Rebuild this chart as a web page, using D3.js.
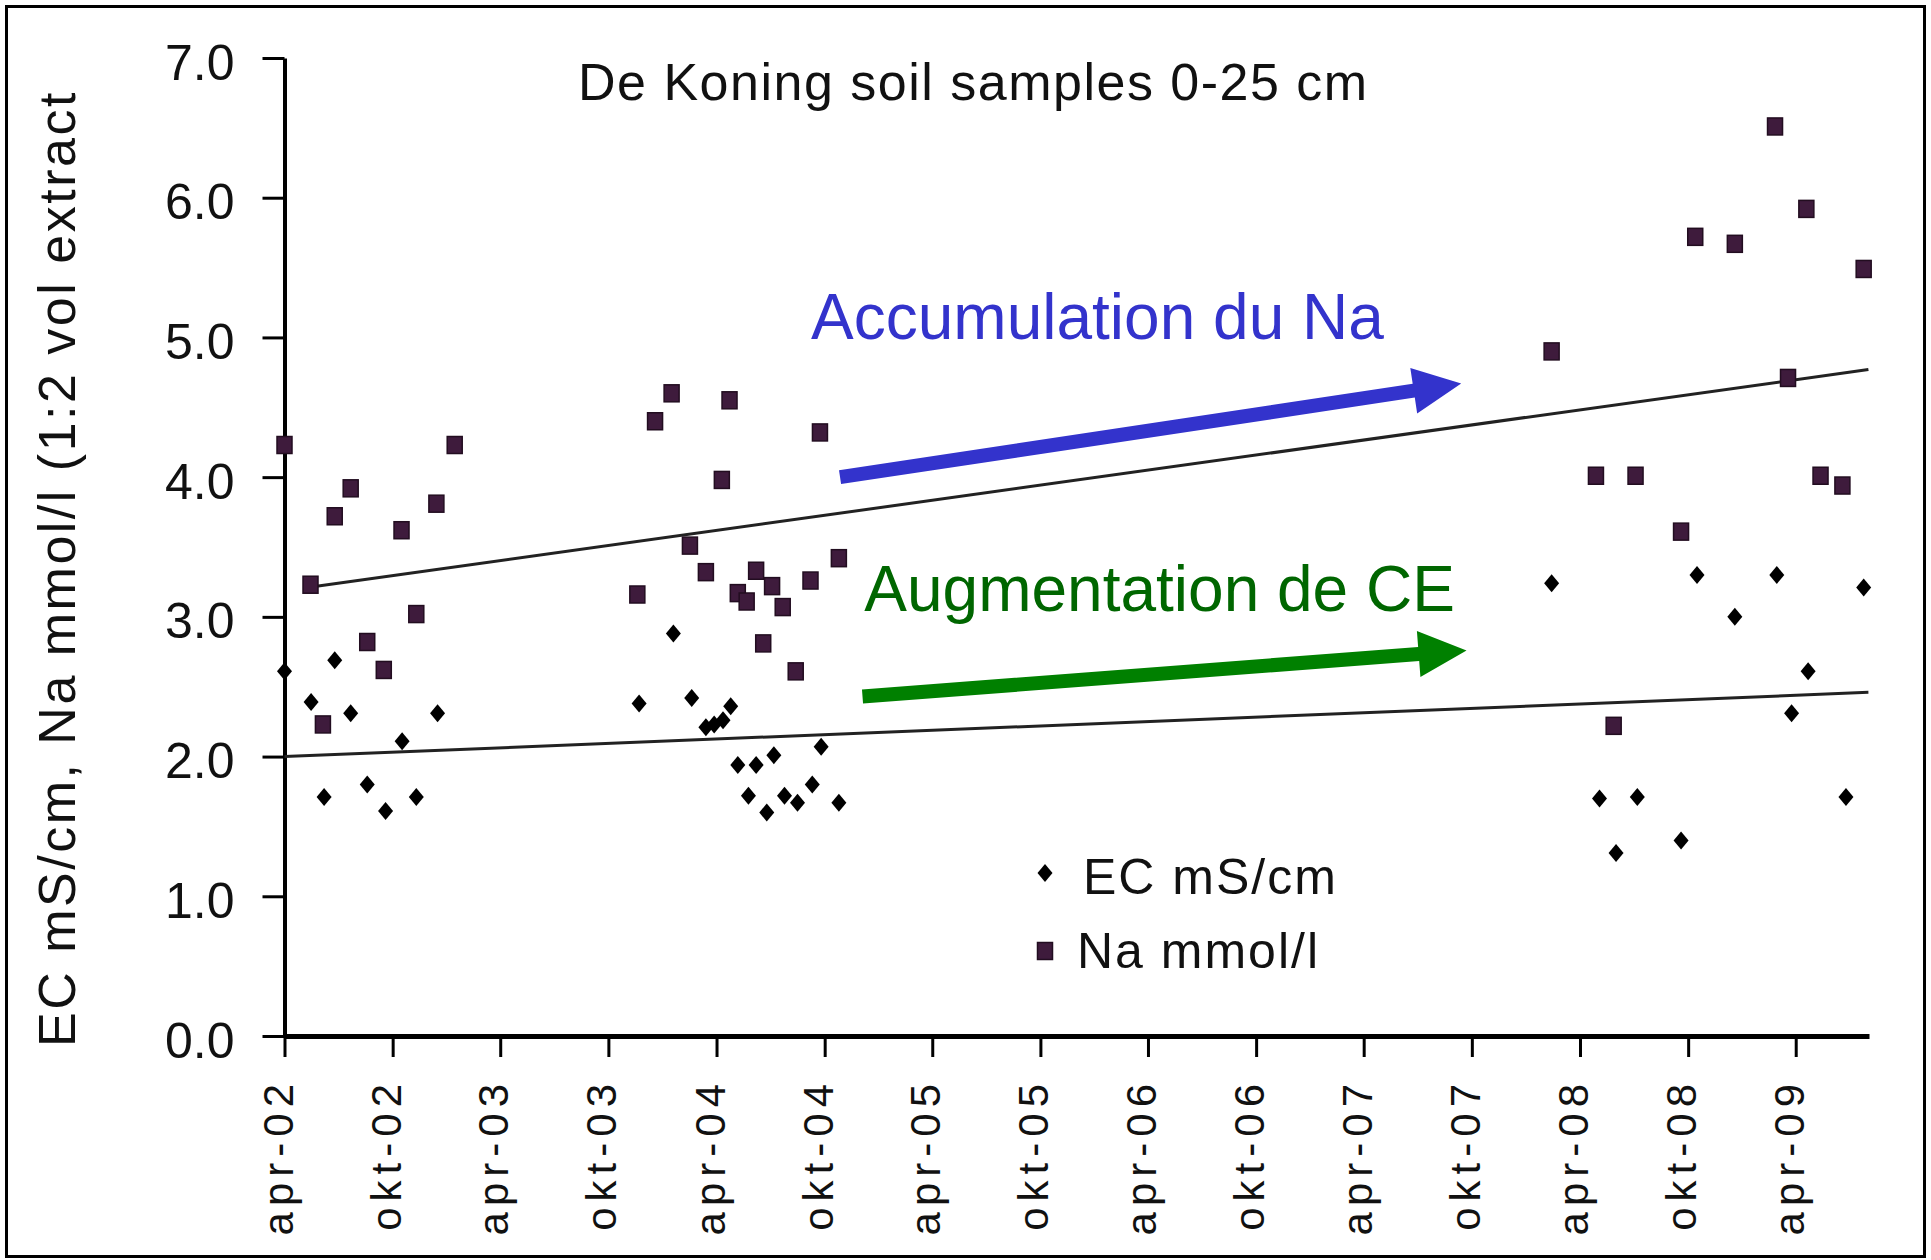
<!DOCTYPE html>
<html>
<head>
<meta charset="utf-8">
<script src="https://d3js.org/d3.v7.min.js"></script>
<style>
  body { margin: 0; background: #fff; }
  svg text { font-family: "Liberation Sans", Arial, sans-serif; }
</style>
</head>
<body>
<svg id="chart" width="1931" height="1260"></svg>
<script>
// x axis labels (every 6 months)
var tickLabels = ["apr-02","okt-02","apr-03","okt-03","apr-04","okt-04","apr-05","okt-05",
                  "apr-06","okt-06","apr-07","okt-07","apr-08","okt-08","apr-09"];
var yTicks = [0, 1, 2, 3, 4, 5, 6, 7];

// EC mS/cm
var ecDates = ["2002-04-01","2002-05-16","2002-06-07","2002-06-25","2002-07-22","2002-08-19",
               "2002-09-19","2002-10-17","2002-11-10","2002-12-16",
               "2003-11-22","2004-01-19","2004-02-19","2004-03-14","2004-03-28","2004-04-12",
               "2004-04-25","2004-05-07","2004-05-25","2004-06-07","2004-06-25","2004-07-07",
               "2004-07-25","2004-08-16","2004-09-10","2004-09-25","2004-10-25",
               "2008-02-13","2008-05-04","2008-06-01","2008-07-07","2008-09-19","2008-10-16",
               "2008-12-19","2009-02-28","2009-03-25","2009-04-22","2009-06-25","2009-07-25"];
var ecValues = [2.61, 2.39, 1.71, 2.69, 2.31, 1.80,
                1.61, 2.11, 1.71, 2.31,
                2.38, 2.88, 2.42, 2.21, 2.23, 2.26,
                2.36, 1.94, 1.72, 1.94, 1.60, 2.01,
                1.72, 1.67, 1.80, 2.07, 1.67,
                3.24, 1.70, 1.31, 1.71, 1.40, 3.30,
                3.00, 3.30, 2.31, 2.61, 1.71, 3.21];

// Na mmol/l
var naDates = ["2002-04-01","2002-05-15","2002-06-05","2002-06-25","2002-07-22","2002-08-19",
               "2002-09-16","2002-10-16","2002-11-10","2002-12-14","2003-01-14",
               "2003-11-19","2003-12-19","2004-01-16","2004-02-16","2004-03-14","2004-04-10",
               "2004-04-23","2004-05-07","2004-05-22","2004-06-07","2004-06-19","2004-07-04",
               "2004-07-22","2004-08-13","2004-09-07","2004-09-23","2004-10-25",
               "2008-02-13","2008-04-28","2008-05-28","2008-07-04","2008-09-19","2008-10-13",
               "2008-12-19","2009-02-25","2009-03-19","2009-04-19","2009-05-13","2009-06-19",
               "2009-07-25"];
var naValues = [4.23, 3.23, 2.23, 3.72, 3.92, 2.82,
                2.62, 3.62, 3.02, 3.81, 4.23,
                3.16, 4.40, 4.60, 3.51, 3.32, 3.98,
                4.55, 3.17, 3.11, 3.33, 2.81, 3.22,
                3.07, 2.61, 3.26, 4.32, 3.42,
                4.90, 4.01, 2.22, 4.01, 3.61, 5.72,
                5.67, 6.51, 4.71, 5.92, 4.01, 3.94,
                5.49];

// linear trend lines
var ecTrendDates = ["2002-04-01", "2009-08-02"];
var ecTrendValues = [2.00, 2.46];
var naTrendDates = ["2002-05-10", "2009-08-02"];
var naTrendValues = [3.21, 4.77];

// annotations
var noteLabels = ["Accumulation du Na", "Augmentation de CE"];
var noteDates = ["2004-09-08", "2004-12-07"];
var noteValues = [4.99, 3.04];
var blueArrowDates = ["2004-10-27", "2007-09-13"];
var blueArrowValues = [4.00, 4.67];
var greenArrowDates = ["2004-12-04", "2007-09-22"];
var greenArrowValues = [2.43, 2.76];

var legendLabels = ["EC mS/cm", "Na mmol/l"];

var parse = d3.timeParse("%Y-%m-%d");
var monthIndex = {apr: 3, okt: 9};
var tickDates = tickLabels.map(function(s) {
  var p = s.split("-");
  return new Date(2000 + (+p[1]), monthIndex[p[0]], 1);
});

var margin = {top: 58, right: 62, bottom: 224, left: 284.5},
    width = 1931 - margin.left - margin.right,
    height = 1260 - margin.top - margin.bottom;

var svg = d3.select("#chart");

svg.append("rect")
  .attr("x", 6.5).attr("y", 6.5)
  .attr("width", 1918).attr("height", 1250)
  .attr("fill", "#fff").attr("stroke", "#000").attr("stroke-width", 3);

var x = d3.scaleTime()
  .domain([parse("2002-04-01"), parse("2009-08-03")])
  .range([margin.left, margin.left + width]);
var y = d3.scaleLinear()
  .domain([0, 7])
  .range([margin.top + height, margin.top]);

// Y axis
var gy = svg.append("g")
  .attr("transform", "translate(" + margin.left + ",0)")
  .call(d3.axisLeft(y).tickValues(yTicks).tickFormat(d3.format(".1f"))
    .tickSize(22).tickPadding(28).tickSizeOuter(0));
gy.select(".domain").attr("stroke", "#000").attr("stroke-width", 4);
gy.selectAll(".tick line").attr("stroke", "#000").attr("stroke-width", 3);
gy.selectAll(".tick text")
  .attr("dy", "0.42em")
  .attr("fill", "#111")
  .style("font-size", "50px");

// X axis
var gx = svg.append("g")
  .attr("transform", "translate(0," + y(0) + ")")
  .call(d3.axisBottom(x).tickValues(tickDates)
    .tickFormat(function(d, i) { return tickLabels[i]; })
    .tickSize(21).tickSizeOuter(0));
gx.select(".domain").attr("stroke", "#000").attr("stroke-width", 5);
gx.selectAll(".tick line").attr("stroke", "#000").attr("stroke-width", 3);
gx.selectAll(".tick text")
  .attr("transform", "rotate(-90)")
  .attr("text-anchor", "end")
  .attr("x", -42)
  .attr("y", 7.5)
  .attr("dy", null)
  .attr("fill", "#111")
  .style("font-size", "42px")
  .style("letter-spacing", "6px");

// y axis title
svg.append("text")
  .attr("transform", "translate(75,1047) rotate(-90)")
  .attr("fill", "#111")
  .style("font-size", "52px")
  .style("letter-spacing", "2.5px")
  .text("EC mS/cm, Na mmol/l  (1:2 vol extract");

// chart title
svg.append("text")
  .attr("x", 578).attr("y", 100)
  .attr("fill", "#111")
  .style("font-size", "52px")
  .style("letter-spacing", "1.5px")
  .text("De Koning soil samples 0-25 cm");

// trend lines
var line = d3.line()
  .x(function(d) { return x(d[0]); })
  .y(function(d) { return y(d[1]); });
[[ecTrendDates, ecTrendValues], [naTrendDates, naTrendValues]].forEach(function(t) {
  var pts = t[0].map(function(d, i) { return [parse(d), t[1][i]]; });
  svg.append("path")
    .attr("d", line(pts))
    .attr("fill", "none")
    .attr("stroke", "#222")
    .attr("stroke-width", 3);
});

// markers
var diamond = {
  draw: function(ctx) {
    ctx.moveTo(0, -9); ctx.lineTo(7.5, 0); ctx.lineTo(0, 9); ctx.lineTo(-7.5, 0); ctx.closePath();
  }
};
var diamondPath = d3.symbol().type(diamond)();

function naSquare(sel) {
  sel.attr("width", 15).attr("height", 17)
    .attr("fill", "#3e1b3c").attr("stroke", "#220d20").attr("stroke-width", 1.5);
}

svg.append("g")
  .selectAll("rect")
  .data(naDates.map(function(d, i) { return {date: parse(d), value: naValues[i]}; }))
  .enter()
  .append("rect")
    .attr("x", function(d) { return x(d.date) - 7.5; })
    .attr("y", function(d) { return y(d.value) - 8.5; })
    .call(naSquare);

svg.append("g")
  .selectAll("path")
  .data(ecDates.map(function(d, i) { return {date: parse(d), value: ecValues[i]}; }))
  .enter()
  .append("path")
    .attr("d", diamondPath)
    .attr("transform", function(d) { return "translate(" + x(d.date) + "," + y(d.value) + ")"; })
    .attr("fill", "#000");

// arrows
function arrow(dates, values, color) {
  var x0 = x(parse(dates[0])), y0 = y(values[0]);
  var x1 = x(parse(dates[1])), y1 = y(values[1]);
  var dx = x1 - x0, dy = y1 - y0, len = Math.sqrt(dx * dx + dy * dy);
  var ux = dx / len, uy = dy / len, nx = -uy, ny = ux;
  var hl = 48, sw = 7, hw = 23;
  var bx = x1 - ux * hl, by = y1 - uy * hl;
  var pts = [
    [x0 + nx * sw, y0 + ny * sw],
    [bx + nx * sw, by + ny * sw],
    [bx + nx * hw, by + ny * hw],
    [x1, y1],
    [bx - nx * hw, by - ny * hw],
    [bx - nx * sw, by - ny * sw],
    [x0 - nx * sw, y0 - ny * sw]
  ];
  svg.append("polygon")
    .attr("points", pts.map(function(p) { return p.join(","); }).join(" "))
    .attr("fill", color);
}
arrow(blueArrowDates, blueArrowValues, "#3333cc");
arrow(greenArrowDates, greenArrowValues, "#008000");

var noteColors = ["#3333cc", "#006600"];
svg.append("g")
  .selectAll("text")
  .data(noteLabels)
  .enter()
  .append("text")
    .attr("x", function(d, i) { return x(parse(noteDates[i])); })
    .attr("y", function(d, i) { return y(noteValues[i]); })
    .attr("fill", function(d, i) { return noteColors[i]; })
    .style("font-size", "64px")
    .text(function(d) { return d; });

// legend
var legend = svg.append("g").attr("transform", "translate(1045,873)");
legend.append("path").attr("d", diamondPath).attr("fill", "#000");
legend.append("rect").attr("x", -7.5).attr("y", 78 - 8.5).call(naSquare);
legend.selectAll("text")
  .data(legendLabels)
  .enter()
  .append("text")
    .attr("x", function(d, i) { return i === 0 ? 38 : 32; })
    .attr("y", function(d, i) { return i === 0 ? 21 : 95; })
    .attr("fill", "#111")
    .style("font-size", "50px")
    .style("letter-spacing", "2px")
    .text(function(d) { return d; });
</script>
</body>
</html>
